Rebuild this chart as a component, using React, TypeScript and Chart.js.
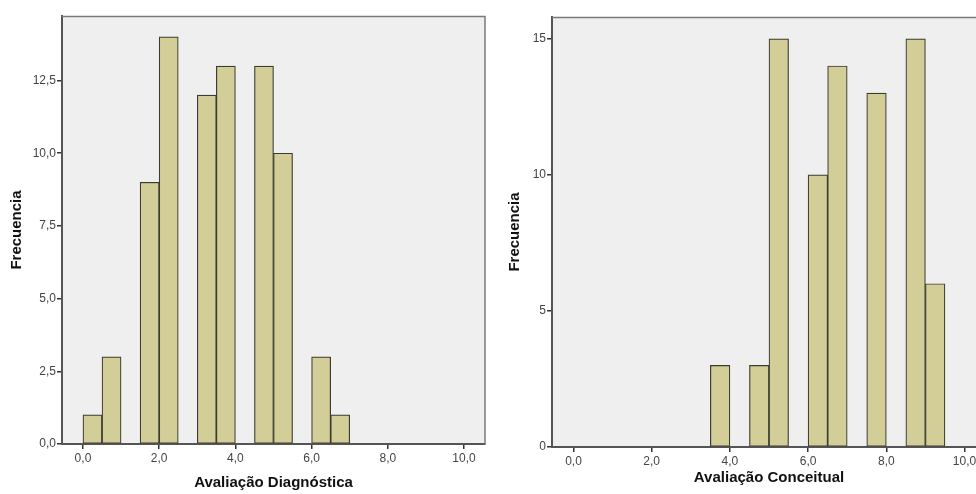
import React, { useEffect, useRef } from "react";
import { Chart, registerables } from "chart.js";
Chart.register(...registerables);

const BIN_WIDTH = 0.5;
const diagBinStarts = [0.0, 0.5, 1.5, 2.0, 3.0, 3.5, 4.5, 5.0, 6.0, 6.5];
const diagFrequencies = [1, 3, 9, 14, 12, 13, 13, 10, 3, 1];
const concBinStarts = [3.5, 4.5, 5.0, 6.0, 6.5, 7.5, 8.5, 9.0];
const concFrequencies = [3, 3, 15, 10, 14, 13, 15, 6];
const xTickValues = [0, 2, 4, 6, 8, 10];
const diagYTickValues = [0, 2.5, 5, 7.5, 10, 12.5];
const concYTickValues = [0, 5, 10, 15];
const yAxisTitle = "Frecuencia";
const diagXAxisTitle = "Avaliação Diagnóstica";
const concXAxisTitle = "Avaliação Conceitual";

const FONT = 'Arial, "Liberation Sans", sans-serif';
const BAR_FILL = "rgb(211,206,152)";
const BAR_EDGE = "#3c3b30";
const PLOT_BG = "#efefef";

type HistProps = {
  left: number;
  width: number;
  height: number;
  binStarts: number[];
  freqs: number[];
  yTicks: number[];
  yFormat: (v: number) => string;
  yMax: number;
  xTitle: string;
  yAxisWidth: number;
  xAxisHeight: number;
  padTop: number;
  padRight: number;
  yTitlePad: number;
  xTitlePad: number;
};

const plotFrame = {
  id: "plotFrame",
  beforeDraw(chart: any) {
    const { ctx, chartArea: a } = chart;
    ctx.save();
    ctx.fillStyle = PLOT_BG;
    ctx.fillRect(a.left, a.top, a.right - a.left, a.bottom - a.top);
    ctx.restore();
  },
  afterDraw(chart: any) {
    const { ctx, chartArea: a } = chart;
    ctx.save();
    ctx.strokeStyle = "#7a7a7a";
    ctx.lineWidth = 1.5;
    ctx.beginPath();
    ctx.moveTo(a.left, a.top + 0.5);
    ctx.lineTo(a.right, a.top + 0.5);
    ctx.lineTo(a.right, a.bottom);
    ctx.stroke();
    ctx.restore();
  },
};

function Histogram(p: HistProps) {
  const ref = useRef<HTMLCanvasElement | null>(null);
  useEffect(() => {
    if (!ref.current) return;
    const data = p.binStarts.map((s, i) => ({ x: s + BIN_WIDTH / 2, y: p.freqs[i] }));
    const chart = new Chart(ref.current, {
      type: "bar",
      data: {
        datasets: [
          {
            data: data as any,
            backgroundColor: BAR_FILL,
            borderColor: BAR_EDGE,
            borderWidth: 1.2,
            borderSkipped: false,
            barPercentage: 1,
            categoryPercentage: 1,
          },
        ],
      },
      options: {
        animation: false,
        responsive: false,
        maintainAspectRatio: false,
        layout: { padding: { top: p.padTop, right: p.padRight, left: 0, bottom: 0 } },
        plugins: { legend: { display: false }, tooltip: { enabled: false } },
        scales: {
          x: {
            type: "linear",
            min: -0.55,
            max: 10.55,
            offset: false,
            afterFit: (s: any) => {
              s.height = p.xAxisHeight;
            },
            afterBuildTicks: (s: any) => {
              s.ticks = xTickValues.map((v) => ({ value: v }));
            },
            ticks: {
              callback: (v: any) => Number(v).toFixed(1).replace(".", ","),
              font: { family: FONT, size: 12 },
              color: "#444",
              padding: 2,
              maxRotation: 0,
            },
            grid: {
              offset: false,
              drawOnChartArea: false,
              drawTicks: true,
              tickLength: 5,
              color: "#333",
              lineWidth: 1.5,
            },
            border: { display: true, color: "#555", width: 2 },
            title: {
              display: true,
              text: p.xTitle,
              font: { family: FONT, size: 15, weight: "bold" },
              color: "#111",
              padding: { top: 0, bottom: p.xTitlePad },
            },
          },
          y: {
            type: "linear",
            min: 0,
            max: p.yMax,
            afterFit: (s: any) => {
              s.width = p.yAxisWidth;
            },
            afterBuildTicks: (s: any) => {
              s.ticks = p.yTicks.map((v) => ({ value: v }));
            },
            ticks: {
              callback: (v: any) => p.yFormat(Number(v)),
              font: { family: FONT, size: 12 },
              color: "#444",
              padding: 1,
            },
            grid: {
              offset: false,
              drawOnChartArea: false,
              drawTicks: true,
              tickLength: 5,
              color: "#333",
              lineWidth: 1.5,
            },
            border: { display: true, color: "#555", width: 2 },
            title: {
              display: true,
              text: yAxisTitle,
              font: { family: FONT, size: 15, weight: "bold" },
              color: "#111",
              padding: { top: p.yTitlePad, bottom: 0 },
            },
          },
        },
      },
      plugins: [plotFrame],
    });
    return () => chart.destroy();
  }, []);
  return (
    <canvas
      ref={ref}
      width={p.width}
      height={p.height}
      style={{ position: "absolute", left: p.left, top: 0, width: p.width, height: p.height }}
    />
  );
}

export default function App() {
  return (
    <div
      style={{
        position: "fixed",
        left: 0,
        top: 0,
        width: 976,
        height: 494,
        overflow: "hidden",
        background: "#fff",
      }}
    >
      <Histogram
        left={0}
        width={490}
        height={494}
        binStarts={diagBinStarts}
        freqs={diagFrequencies}
        yTicks={diagYTickValues}
        yFormat={(v) => v.toFixed(1).replace(".", ",")}
        yMax={14.72}
        xTitle={diagXAxisTitle}
        yAxisWidth={62}
        xAxisHeight={50}
        padTop={16}
        padRight={5}
        yTitlePad={8}
        xTitlePad={2}
      />
      <Histogram
        left={490}
        width={510}
        height={494}
        binStarts={concBinStarts}
        freqs={concFrequencies}
        yTicks={concYTickValues}
        yFormat={(v) => String(Math.round(v))}
        yMax={15.8}
        xTitle={concXAxisTitle}
        yAxisWidth={62}
        xAxisHeight={47}
        padTop={17}
        padRight={14}
        yTitlePad={16}
        xTitlePad={7}
      />
    </div>
  );
}
